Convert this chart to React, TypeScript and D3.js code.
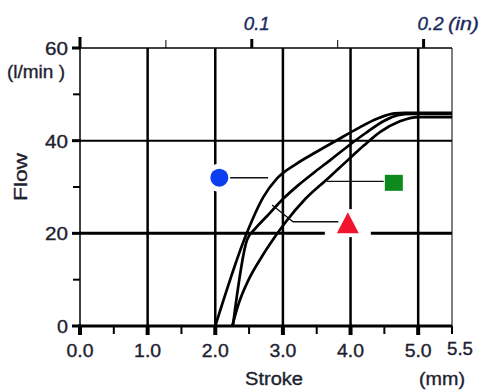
import React from "react";
import * as d3 from "d3";

const strokeTicks = [0, 1, 2, 3, 4, 5];
const strokeMinorTicks = [0.5, 1.5, 2.5, 3.5, 4.5, 5.5];
const flowTicks = [0, 20, 40, 60];
const flowMinorTicks = [10, 30, 50];
const inchTicks = [0.1, 0.2];
const inchMinorTicks = [0.05, 0.15];

// Flow curves (stroke mm, flow l/min)
const curveCircle: [number, number][] = [
  [2.0, 0], [2.45, 19.5], [2.55, 23.0], [2.71, 27.8], [2.91, 31.8], [3.2, 35.0],
  [3.5, 37.6], [3.8, 40.1], [4.1, 42.6], [4.4, 44.8], [4.65, 45.9], [4.8, 46.0], [5.5, 46.0],
];
const curveTriangle: [number, number][] = [
  [2.26, 0], [2.47, 18.6], [2.59, 21.0], [2.77, 23.8], [3.0, 27.4], [3.22, 30.3],
  [3.45, 33.0], [3.7, 35.8], [3.96, 38.8], [4.22, 41.6], [4.5, 44.3], [4.7, 45.5], [4.9, 45.8], [5.5, 45.8],
];
const curveSquare: [number, number][] = [
  [2.25, 0], [2.35, 5.0], [2.49, 9.9], [2.69, 15.0], [2.88, 19.2], [3.05, 22.6], [3.33, 27.4],
  [3.67, 31.9], [3.96, 35.8], [4.2, 39.0], [4.44, 41.9], [4.73, 44.2], [5.0, 45.1], [5.5, 45.1],
];

const circleMarker = { x: 2.06, y: 32.0 };
const squareMarker = { x: 4.64, y: 30.9 };
const triangleMarker = { x: 3.96, y: 22.2 };

const circleLeader: [number, number][] = [[2.22, 32.0], [2.78, 32.0]];
const squareLeader: [number, number][] = [[3.65, 31.2], [4.49, 31.2]];
const triangleLeader: [number, number][] = [[2.84, 26.1], [3.15, 22.5], [3.82, 22.5]];

const FONT = "'Liberation Sans', Arial, sans-serif";
const INK = "#1e2230";
const NAVY = "#1b2a5e";

export default function App() {
  const x = d3.scaleLinear().domain([0, 5.5]).range([80, 452]);
  const y = d3.scaleLinear().domain([0, 60]).range([326, 48]);
  const xIn = (v: number) => x(v * 25.4);
  const line = d3.line<[number, number]>().x((d) => x(d[0])).y((d) => y(d[1])).curve(d3.curveMonotoneX);
  const lin = d3.line<[number, number]>().x((d) => x(d[0])).y((d) => y(d[1]));
  const x0 = x(0), x1 = x(5.5), yTop = y(60), yBot = y(0);
  const tri = (cx: number, cy: number, s: number) =>
    `M${cx},${cy - s * 0.55} L${cx + s * 0.55},${cy + s * 0.5} L${cx - s * 0.55},${cy + s * 0.5} Z`;
  const ink = { fill: INK, stroke: INK, strokeWidth: 0.35 };
  const navy = { fill: NAVY, stroke: NAVY, strokeWidth: 0.35 };

  return (
    <svg width={481} height={390} style={{ position: "absolute", left: 0, top: 0, background: "#fff" }}>
      <rect width={481} height={390} fill="#fff" />
      {/* vertical grid */}
      {strokeTicks.filter((t) => t > 0).map((t) => (
        <line key={"vg" + t} x1={x(t)} x2={x(t)} y1={yTop} y2={yBot} stroke="#000" strokeWidth={2.5} />
      ))}
      {/* horizontal grid */}
      <line x1={x0} x2={x1} y1={y(40)} y2={y(40)} stroke="#000" strokeWidth={2} />
      <line x1={x0} x2={x1} y1={y(20)} y2={y(20)} stroke="#000" strokeWidth={3} />
      {/* frame */}
      <line x1={x0} x2={x1} y1={yTop} y2={yTop} stroke="#000" strokeWidth={1.5} />
      <line x1={x1} x2={x1} y1={yTop} y2={yBot} stroke="#000" strokeWidth={1} />
      <line x1={x0} x2={x0} y1={yTop - 4} y2={yBot} stroke="#000" strokeWidth={1.5} />
      <line x1={x0 - 2} x2={x1} y1={yBot} y2={yBot} stroke="#000" strokeWidth={3} />

      {/* left ticks */}
      {flowTicks.map((t) => (
        <line key={"lt" + t} x1={x0 - 8} x2={x0 + 1} y1={y(t)} y2={y(t)} stroke="#000" strokeWidth={3} />
      ))}
      {flowMinorTicks.map((t) => (
        <line key={"lm" + t} x1={x0 - 7} x2={x0} y1={y(t)} y2={y(t)} stroke="#000" strokeWidth={2} />
      ))}
      {/* bottom ticks */}
      {strokeTicks.map((t) => (
        <line key={"bt" + t} x1={x(t)} x2={x(t)} y1={yBot} y2={yBot + 9} stroke="#000" strokeWidth={4} />
      ))}
      {strokeMinorTicks.map((t) => (
        <line key={"bm" + t} x1={x(t)} x2={x(t)} y1={yBot} y2={yBot + 8} stroke="#000" strokeWidth={2} />
      ))}
      {/* top ticks */}
      <line x1={x0} x2={x0} y1={yTop - 11} y2={yTop} stroke="#000" strokeWidth={3} />
      {inchTicks.map((t) => (
        <line key={"tt" + t} x1={xIn(t)} x2={xIn(t)} y1={yTop - 9} y2={yTop} stroke="#000" strokeWidth={3} />
      ))}
      {inchMinorTicks.map((t) => (
        <line key={"tm" + t} x1={xIn(t)} x2={xIn(t)} y1={yTop - 8} y2={yTop} stroke="#000" strokeWidth={1} />
      ))}

      {/* marker halos */}
      <circle cx={x(circleMarker.x)} cy={y(circleMarker.y)} r={14} fill="#fff" />
      <rect x={x(triangleMarker.x) - 23} y={y(triangleMarker.y) - 14} width={46} height={28} fill="#fff" />

      {/* curves */}
      {[curveCircle, curveTriangle, curveSquare].map((c, i) => (
        <path key={"c" + i} d={line(c) || ""} fill="none" stroke="#000" strokeWidth={2.7} strokeLinejoin="round" />
      ))}

      {/* leaders */}
      {[circleLeader, squareLeader, triangleLeader].map((c, i) => (
        <path key={"l" + i} d={lin(c) || ""} fill="none" stroke="#111" strokeWidth={1.3} />
      ))}

      {/* markers */}
      <circle cx={x(circleMarker.x)} cy={y(circleMarker.y)} r={9} fill="#0a3ef0" />
      <rect x={x(squareMarker.x) - 9} y={y(squareMarker.y) - 8} width={18} height={16} fill="#0d8a1e" />
      <path d={tri(x(triangleMarker.x), y(triangleMarker.y), 20)} fill="#f0142c" />

      {/* y labels */}
      {flowTicks.map((t) => (
        <text key={"yl" + t} x={68} y={y(t) + 7} textAnchor="end" fontFamily={FONT} fontSize={19} {...ink}
          textLength={t === 0 ? 11 : 23} lengthAdjust="spacingAndGlyphs">
          {t}
        </text>
      ))}
      <text x={7} y={78} fontFamily={FONT} fontSize={18} {...ink} textLength={58} lengthAdjust="spacingAndGlyphs">(l/min )</text>
      <text transform="translate(27,177) rotate(-90)" textAnchor="middle" fontFamily={FONT} fontSize={19} {...ink}
        textLength={48} lengthAdjust="spacingAndGlyphs">Flow</text>

      {/* x labels */}
      {strokeTicks.map((t) => (
        <text key={"xl" + t} x={x(t)} y={357} textAnchor="middle" fontFamily={FONT} fontSize={18} {...ink}
          textLength={27} lengthAdjust="spacingAndGlyphs">
          {t.toFixed(1)}
        </text>
      ))}
      <text x={460} y={355} textAnchor="middle" fontFamily={FONT} fontSize={18} {...ink} textLength={26} lengthAdjust="spacingAndGlyphs">5.5</text>
      <text x={274} y={385} textAnchor="middle" fontFamily={FONT} fontSize={18} {...ink} textLength={58} lengthAdjust="spacingAndGlyphs">Stroke</text>
      <text x={442} y={385} textAnchor="middle" fontFamily={FONT} fontSize={18} {...ink} textLength={46} lengthAdjust="spacingAndGlyphs">(mm)</text>

      {/* top labels */}
      {inchTicks.map((t, i) => (
        <text key={"il" + t} x={xIn(t) + (i === 0 ? 5 : 7)} y={30} textAnchor="middle" fontFamily={FONT} fontSize={18}
          fontStyle="italic" {...navy} textLength={26} lengthAdjust="spacingAndGlyphs">
          {t.toFixed(1)}
        </text>
      ))}
      <text x={448} y={30} fontFamily={FONT} fontSize={18} fontStyle="italic" {...navy} textLength={31} lengthAdjust="spacingAndGlyphs">(in)</text>
    </svg>
  );
}
